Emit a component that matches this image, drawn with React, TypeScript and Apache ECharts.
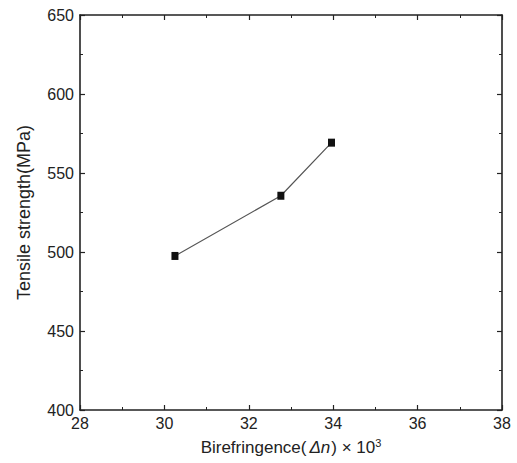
import React, { useEffect, useRef } from "react";
import * as echarts from "echarts";

const birefringence = [30.25, 32.76, 33.96];
const tensileStrength = [497.5, 535.6, 569.2];
const xTicks = [28, 30, 32, 34, 36, 38];
const yTicks = [400, 450, 500, 550, 600, 650];

const FONT = "'Liberation Sans', Arial, Helvetica, sans-serif";
const AX = "#222";

export default function App() {
  const ref = useRef<HTMLDivElement>(null);
  useEffect(() => {
    const chart = echarts.init(ref.current!, null, { renderer: "svg" });
    const axisCommon = {
      axisLine: { show: true, onZero: false, lineStyle: { color: AX, width: 1.6 } },
      axisTick: { show: true, inside: true, length: 5, lineStyle: { color: AX, width: 1.2 } },
      minorTick: { show: true, splitNumber: 2, length: 3, lineStyle: { color: AX, width: 1 } },
      splitLine: { show: false },
    };
    chart.setOption({
      animation: false,
      backgroundColor: "#fff",
      grid: { left: 80, right: 15, top: 15, bottom: 53, containLabel: false },
      xAxis: [
        {
          type: "value",
          min: xTicks[0],
          max: xTicks[xTicks.length - 1],
          interval: 2,
          position: "bottom",
          ...axisCommon,
          axisLabel: { color: "#222", fontSize: 16, fontFamily: FONT, margin: 5 },
          name: "{a|Birefringence(}{b|Δn}{a|) × 10}{s|3}",
          nameLocation: "middle",
          nameGap: 27,
          nameTextStyle: {
            rich: {
              a: { fontSize: 17, fontFamily: FONT, color: "#222" },
              b: { fontSize: 17, fontFamily: FONT, color: "#222", fontStyle: "italic", padding: [0, 1, 0, 3] },
              s: { fontSize: 11, fontFamily: FONT, color: "#222", verticalAlign: "top", padding: [0, 0, 9, 0] },
            },
          },
        },
        {
          type: "value",
          min: xTicks[0],
          max: xTicks[xTicks.length - 1],
          interval: 2,
          position: "top",
          ...axisCommon,
          axisLabel: { show: false },
        },
      ],
      yAxis: [
        {
          type: "value",
          min: yTicks[0],
          max: yTicks[yTicks.length - 1],
          interval: 50,
          position: "left",
          ...axisCommon,
          axisLabel: { color: "#222", fontSize: 16, fontFamily: FONT, margin: 6 },
          name: "Tensile strength(MPa)",
          nameLocation: "middle",
          nameGap: 47,
          nameTextStyle: { fontSize: 18, fontFamily: FONT, color: "#222" },
        },
        {
          type: "value",
          min: yTicks[0],
          max: yTicks[yTicks.length - 1],
          interval: 50,
          position: "right",
          ...axisCommon,
          axisLabel: { show: false },
        },
      ],
      series: [
        {
          type: "line",
          data: birefringence.map((x, i) => [x, tensileStrength[i]]),
          symbol: "rect",
          symbolSize: [7, 8],
          itemStyle: { color: "#111" },
          lineStyle: { color: "#555", width: 1.2 },
        },
      ],
    });
    return () => chart.dispose();
  }, []);
  return (
    <div
      ref={ref}
      style={{ position: "fixed", left: 0, top: 0, width: 517, height: 463 }}
    />
  );
}
